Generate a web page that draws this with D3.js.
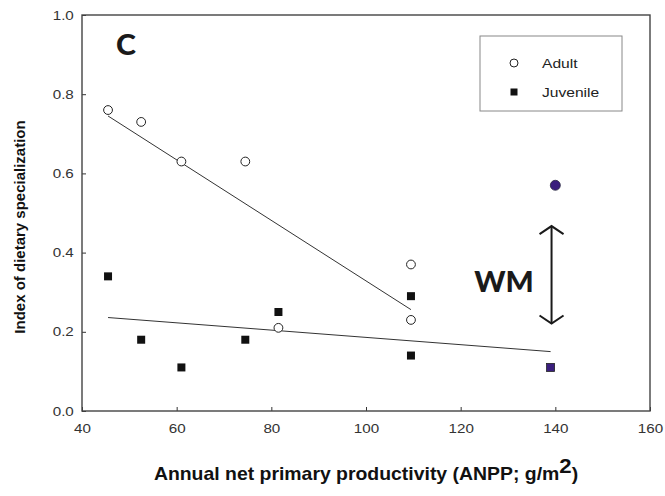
<!DOCTYPE html>
<html>
<head>
<meta charset="utf-8">
<script src="https://cdn.jsdelivr.net/npm/d3@7"></script>
<style>
  html, body { margin: 0; padding: 0; background: #fff; }
  svg { display: block; }
</style>
</head>
<body>
<svg id="chart" width="665" height="496"></svg>
<script>
// ---- data ----
const anpp = [45.5, 52.5, 61, 74.5, 81.5, 109.5, 109.5];
const adult = [0.76, 0.73, 0.63, 0.63, 0.21, 0.37, 0.23];
const juvenileX = [45.5, 52.5, 61, 74.5, 81.5, 109.5, 109.5];
const juvenile = [0.34, 0.18, 0.11, 0.18, 0.25, 0.29, 0.14];
const wmAdult = [[140, 0.57]];
const wmJuvenile = [[139, 0.11]];
const adultFitX = [45.5, 109.5];
const adultFitY = [0.745, 0.256];
const juvenileFitX = [45.5, 139];
const juvenileFitY = [0.236, 0.150];
const wmArrowX = 139.2;
const wmArrowY = [0.467, 0.221];
const xTicks = [40, 60, 80, 100, 120, 140, 160];
const yTicks = [0.0, 0.2, 0.4, 0.6, 0.8, 1.0];
const seriesNames = ["Adult", "Juvenile"];

// ---- layout ----
const svg = d3.select("#chart");
const L = 82, R = 650, T = 15, B = 411;
const x = d3.scaleLinear().domain([40, 160]).range([L, R]);
const y = d3.scaleLinear().domain([0, 1]).range([B, T]);
const tickFont = "Liberation Sans, Arial, sans-serif";
const stretch = 1.17; // reference text is horizontally stretched

// axes (inward ticks)
const xAxis = d3.axisBottom(x).tickValues(xTicks).tickSizeInner(-4).tickSizeOuter(0).tickPadding(12).tickFormat(d3.format("d"));
const gx = svg.append("g").attr("transform", `translate(0,${B})`).call(xAxis);
const yAxis = d3.axisLeft(y).tickValues(yTicks).tickSizeInner(-4).tickSizeOuter(0).tickPadding(12).tickFormat(d3.format(".1f"));
const gy = svg.append("g").attr("transform", `translate(${L},0)`).call(yAxis);
[gx, gy].forEach(g => {
  g.select(".domain").remove();
  g.selectAll(".tick line").attr("stroke", "#333").attr("stroke-width", 1);
  g.selectAll(".tick text").attr("fill", "#333").style("font-family", tickFont).style("font-size", "13px")
    .attr("transform", `scale(${stretch},1)`);
});
gy.selectAll(".tick text").attr("x", -7);
gx.selectAll(".tick text").attr("dy", "0.71em").attr("y", 12.5);

// frame
svg.append("rect").attr("x", L).attr("y", T).attr("width", R - L).attr("height", B - T)
  .attr("fill", "none").attr("stroke", "#444").attr("stroke-width", 1.4);

// regression lines
const line = d3.line().x(d => x(d[0])).y(d => y(d[1]));
svg.append("path").datum(d3.zip(adultFitX, adultFitY)).attr("d", line)
  .attr("fill", "none").attr("stroke", "#333").attr("stroke-width", 1);
svg.append("path").datum(d3.zip(juvenileFitX, juvenileFitY)).attr("d", line)
  .attr("fill", "none").attr("stroke", "#333").attr("stroke-width", 1);

// adult (open circles)
svg.append("g").selectAll("circle").data(d3.zip(anpp, adult)).join("circle")
  .attr("cx", d => x(d[0])).attr("cy", d => y(d[1])).attr("r", 4.4)
  .attr("fill", "#fff").attr("stroke", "#222").attr("stroke-width", 1);

// juvenile (filled squares)
const sq = 8;
svg.append("g").selectAll("rect").data(d3.zip(juvenileX, juvenile)).join("rect")
  .attr("x", d => x(d[0]) - sq / 2).attr("y", d => y(d[1]) - sq / 2)
  .attr("width", sq).attr("height", sq).attr("fill", "#111");

// WM points (purple)
svg.append("g").selectAll("circle").data(wmAdult).join("circle")
  .attr("cx", d => x(d[0])).attr("cy", d => y(d[1])).attr("r", 5)
  .attr("fill", "#3a1f7d").attr("stroke", "#2a2a40").attr("stroke-width", 0.8);
svg.append("g").selectAll("rect").data(wmJuvenile).join("rect")
  .attr("x", d => x(d[0]) - sq / 2).attr("y", d => y(d[1]) - sq / 2)
  .attr("width", sq).attr("height", sq).attr("fill", "#3a1f7d").attr("stroke", "#222").attr("stroke-width", 0.8);

// WM double arrow
const ax = x(wmArrowX), ay1 = y(wmArrowY[0]), ay2 = y(wmArrowY[1]);
const arrow = svg.append("g").attr("stroke", "#1a1a1a").attr("stroke-width", 2).attr("fill", "none");
arrow.append("line").attr("x1", ax).attr("x2", ax).attr("y1", ay1).attr("y2", ay2);
arrow.append("path").attr("d", `M${ax - 12},${ay1 + 8} L${ax},${ay1} L${ax + 12},${ay1 + 8}`);
arrow.append("path").attr("d", `M${ax - 12},${ay2 - 8} L${ax},${ay2} L${ax + 12},${ay2 - 8}`);
svg.append("text").attr("transform", "translate(504,292) scale(1.06,1)").attr("text-anchor", "middle")
  .style("font-family", "Lato, 'Open Sans', sans-serif").style("font-weight", "900").style("font-size", "28px")
  .attr("fill", "#1a1a1a").text("WM");

// panel letter
svg.append("text").attr("transform", "translate(126,55) scale(1.08,1)").attr("text-anchor", "middle")
  .style("font-family", "Lato, 'Open Sans', sans-serif").style("font-weight", "900").style("font-size", "28px")
  .attr("fill", "#1a1a1a").text("C");

// legend
svg.append("rect").attr("x", 480).attr("y", 36).attr("width", 142).attr("height", 75)
  .attr("fill", "#fff").attr("stroke", "#888").attr("stroke-width", 1);
const lg = svg.append("g");
lg.append("circle").attr("cx", 514).attr("cy", 63).attr("r", 4).attr("fill", "#fff").attr("stroke", "#222").attr("stroke-width", 1);
lg.append("rect").attr("x", 514 - 3.5).attr("y", 92 - 3.5).attr("width", 7).attr("height", 7).attr("fill", "#111");
lg.selectAll("text").data(seriesNames).join("text")
  .attr("transform", (d, i) => `translate(542,${68 + i * 29}) scale(1.2,1)`)
  .style("font-family", tickFont).style("font-size", "13px").attr("fill", "#222").text(d => d);

// axis titles
svg.append("text").attr("transform", "translate(25,227) rotate(-90)").attr("text-anchor", "middle")
  .style("font-family", tickFont).style("font-weight", "bold").style("font-size", "15px").attr("fill", "#111")
  .text("Index of dietary specialization");
const xt = svg.append("text").attr("transform", "translate(366,480) scale(1.11,1)").attr("text-anchor", "middle")
  .style("font-family", tickFont).style("font-weight", "bold").style("font-size", "17.5px").attr("fill", "#111");
xt.append("tspan").text("Annual net primary productivity (ANPP; g/m");
xt.append("tspan").attr("dy", -7).style("font-size", "20px").text("2");
xt.append("tspan").attr("dy", 7).text(")");
</script>
</body>
</html>
